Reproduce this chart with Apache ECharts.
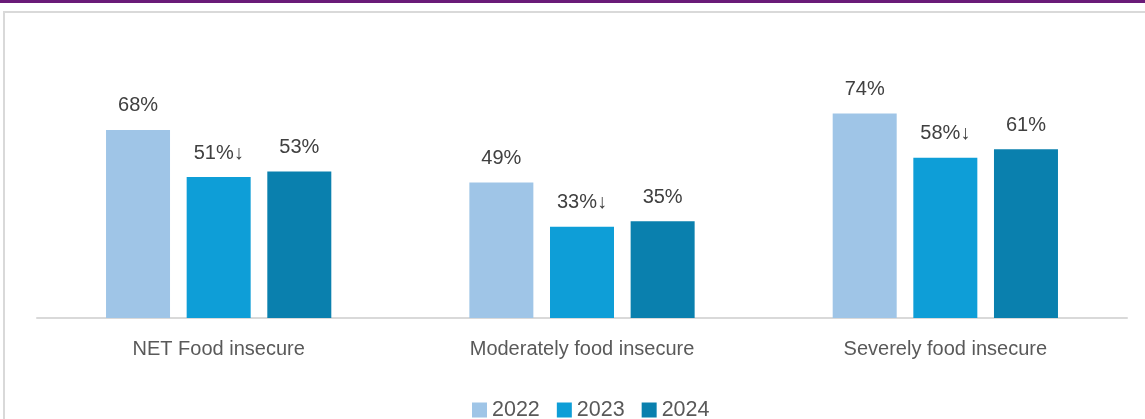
<!DOCTYPE html>
<html>
<head>
<meta charset="utf-8">
<script src="https://cdn.jsdelivr.net/npm/echarts@6/dist/echarts.min.js"></script>
<style>
html, body { margin: 0; padding: 0; background: #fff; }
#topline { position: absolute; left: 0; top: 0; width: 1145px; height: 3px; background: #6A1B78; }
#frame { position: absolute; left: 3px; top: 11px; width: 1150px; height: 420px; border: 1px solid #D9D9D9; border-width: 2px 0 0 2px; }
#main { position: absolute; left: 0; top: 0; width: 1145px; height: 419px; }
</style>
</head>
<body>
<div id="topline"></div>
<div id="frame"></div>
<div id="main"></div>
<script>
var categories = ['NET Food insecure', 'Moderately food insecure', 'Severely food insecure'];
var years = ['2022', '2023', '2024'];
var v2022 = [68, 49, 74];
var v2023 = [51, 33, 58];
var v2024 = [53, 35, 61];
var labels2023 = ['51%↓', '33%↓', '58%↓'];
var colors = ['#9FC5E7', '#0E9ED7', '#0A80AE'];

var myChart = echarts.init(document.getElementById('main'));

function makeSeries(name, data, color, labelTexts) {
    return {
        name: name,
        type: 'bar',
        data: data,
        barWidth: 64,
        barGap: '26%',
        itemStyle: { color: color },
        label: {
            show: true,
            position: 'top',
            distance: 14,
            fontFamily: 'Liberation Sans',
            fontSize: 20,
            color: '#404040',
            formatter: function (p) {
                return labelTexts ? labelTexts[p.dataIndex] : p.value + '%';
            }
        }
    };
}

var option = {
    animation: false,
    grid: { left: 37, right: 18, top: 41.5, bottom: 101 },
    legend: {
        data: years,
        top: 394,
        left: 467,
        itemWidth: 15,
        itemHeight: 15,
        itemGap: 17,
        icon: 'rect',
        textStyle: { fontFamily: 'Liberation Sans', fontSize: 21.5, color: '#595959' }
    },
    xAxis: {
        type: 'category',
        data: categories,
        axisLine: { lineStyle: { color: '#D9D9D9', width: 2 } },
        axisTick: { show: false },
        axisLabel: { fontFamily: 'Liberation Sans', fontSize: 20, color: '#595959', margin: 21 }
    },
    yAxis: {
        type: 'value',
        min: 0,
        max: 100,
        show: false,
        splitLine: { show: false }
    },
    series: [
        makeSeries('2022', v2022, colors[0]),
        makeSeries('2023', v2023, colors[1], labels2023),
        makeSeries('2024', v2024, colors[2])
    ]
};
myChart.setOption(option);
</script>
</body>
</html>
